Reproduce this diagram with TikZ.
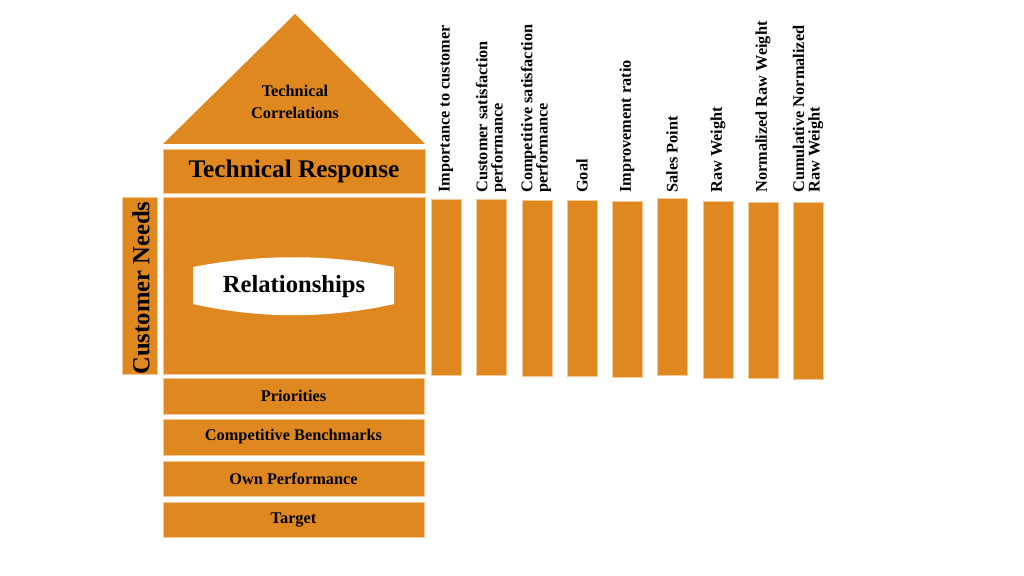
\documentclass[tikz,border=0pt]{standalone}
\usepackage{fontspec}
\setmainfont{Liberation Serif}
\usetikzlibrary{positioning}

\definecolor{qfdorange}{RGB}{224,136,32}
\definecolor{qfdedge}{RGB}{243,200,150}

\tikzset{
  block/.style={fill=qfdorange, draw=qfdedge, line width=0.5pt, inner sep=0pt},
  rowlabel/.style={font=\fontsize{11.6}{14}\selectfont\bfseries},
  collabel/.style={rotate=90, anchor=west, inner sep=0pt, align=left,
                   font=\fontsize{11.6}{11}\selectfont\bfseries},
}

\begin{document}
\begin{tikzpicture}[x=0.025cm, y=-0.025cm]
  \useasboundingbox (0,0) rectangle (1024,576);

  % Roof
  \fill[qfdorange] (163,144) -- (295,14) -- (425,144) -- cycle;
  \node[align=center, font=\fontsize{11.6}{15.4}\selectfont\bfseries] (corr) at (295,102) {Technical\\Correlations};

  % Technical response
  \node[block, minimum width=6.55cm, minimum height=1.1cm, font=\fontsize{18}{20}\selectfont\bfseries]
    (resp) at (294,171) {Technical Response};

  % Relationship matrix
  \node[block, minimum width=6.55cm, minimum height=4.425cm] (matrix) at (294,285.5) {};
  \fill[white] (193,267) .. controls (260,254) and (327,254) .. (394,267)
     -- (394,304) .. controls (327,319) and (260,319) .. (193,304) -- cycle;
  \node[font=\fontsize{17.5}{20}\selectfont\bfseries] (rel) at (294,287) {Relationships};

  % Customer needs
  \node[block, minimum width=0.875cm, minimum height=4.425cm] (needs) at (139.5,285.5) {};
  \node[rotate=90, font=\fontsize{17.5}{20}\selectfont\bfseries] (needstext) at (141,288) {Customer Needs};

  % Bottom rows
  \node[block, rowlabel, minimum width=6.525cm, minimum height=0.9cm] (prio) at (293.5,396) {Priorities};
  \node[block, rowlabel, minimum width=6.525cm, minimum height=0.9cm] (bench) at (293.5,437) {Competitive Benchmarks};
  \node[block, rowlabel, minimum width=6.525cm, minimum height=0.875cm] (own) at (293.5,478.5) {Own Performance};
  \node[block, rowlabel, minimum width=6.525cm, minimum height=0.875cm] (target) at (293.5,519.5) {Target};

  % Planning matrix columns
  \node[block, minimum width=0.75cm, minimum height=4.4cm] (col1) at (446,287) {};
  \node[block, minimum width=0.75cm, minimum height=4.4cm] (col2) at (491.5,287.5) {};
  \node[block, minimum width=0.75cm, minimum height=4.4cm] (col3) at (537,288) {};
  \node[block, minimum width=0.75cm, minimum height=4.4cm] (col4) at (582,288.5) {};
  \node[block, minimum width=0.75cm, minimum height=4.4cm] (col5) at (627,289) {};
  \node[block, minimum width=0.75cm, minimum height=4.425cm] (col6) at (672.5,286.5) {};
  \node[block, minimum width=0.75cm, minimum height=4.425cm] (col7) at (718,289.5) {};
  \node[block, minimum width=0.75cm, minimum height=4.4cm] (col8) at (763,290) {};
  \node[block, minimum width=0.75cm, minimum height=4.425cm] (col9) at (808,290.5) {};

  % Column headings
  \node[collabel] (lab1) at (446,193) {Importance to customer};
  \node[collabel] (lab2) at (491,193) {Customer satisfaction\\performance};
  \node[collabel] (lab3) at (536,193) {Competitive satisfaction\\performance};
  \node[collabel] (lab4) at (582,193) {Goal};
  \node[collabel] (lab5) at (627,193) {Improvement ratio};
  \node[collabel] (lab6) at (672,193) {Sales Point};
  \node[collabel] (lab7) at (718,193) {Raw Weight};
  \node[collabel] (lab8) at (763,193) {Normalized Raw Weight};
  \node[collabel] (lab9) at (808,193) {Cumulative Normalized\\Raw Weight};
\end{tikzpicture}
\end{document}
